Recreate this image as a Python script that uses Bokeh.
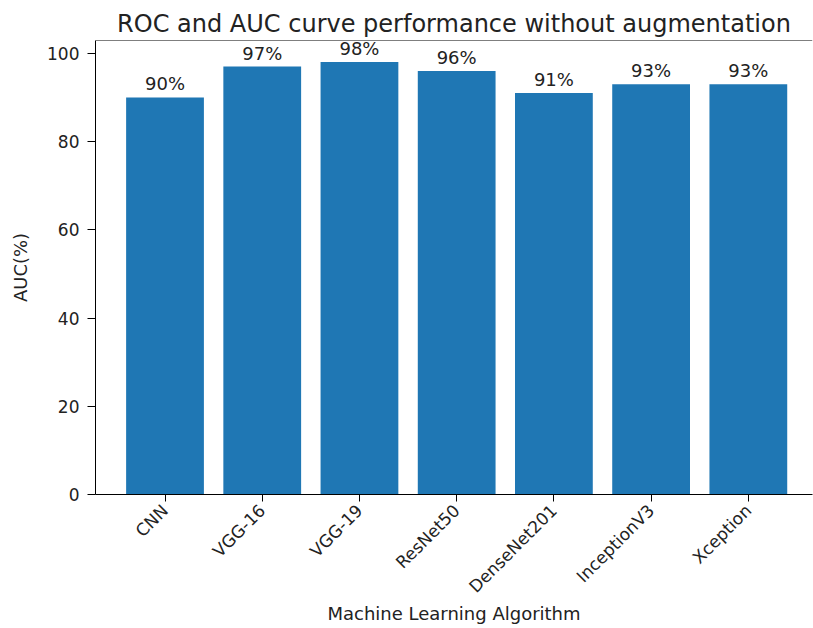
import math
from bokeh.plotting import figure
from bokeh.models import Range1d, FixedTicker, Span, ColumnDataSource
from bokeh.embed import file_html
from bokeh.resources import INLINE
from bokeh.core.properties import value

# ---- data ----
models = ["CNN", "VGG-16", "VGG-19", "ResNet50", "DenseNet201", "InceptionV3", "Xception"]
auc = [90, 97, 98, 96, 91, 93, 93]
y_ticks = [0, 20, 40, 60, 80, 100]

title_text = "ROC and AUC curve performance without augmentation"
x_label = "Machine Learning Algorithm"
y_label = "AUC(%)"

# ---- style ----
FONT = "DejaVu Sans"
TEXT = "#222222"
BAR = "#1f77b4"

xpos = list(range(len(models)))
y_top = max(auc) * 1.05

src = ColumnDataSource(dict(x=xpos, top=auc, label=[f"{v}%" for v in auc]))

p = figure(width=813, height=628, output_backend="svg", toolbar_location=None,
           x_range=Range1d(-0.715, 6.66), y_range=Range1d(0, y_top),
           min_border_left=95, min_border_right=1, min_border_top=40,
           min_border_bottom=134)

p.background_fill_color = "white"
p.border_fill_color = "white"
p.outline_line_color = None
p.xgrid.visible = False
p.ygrid.visible = False

p.title.text = title_text
p.title.align = "center"
p.title.offset = 3
p.title.text_font = FONT
p.title.text_font_size = "24px"
p.title.text_font_style = "normal"
p.title.text_color = TEXT
p.title.standoff = 6

p.vbar(x="x", top="top", width=0.8, bottom=0, source=src,
       fill_color=BAR, line_color=None)

p.text(x="x", y="top", text="label", source=src, text_font=value(FONT),
       text_font_size="18px", text_align="center", text_baseline="bottom",
       y_offset=-3, text_color=TEXT)

p.add_layout(Span(location=y_top, dimension="width", line_color="black", line_width=1))

for ax in (p.xaxis[0], p.yaxis[0]):
    ax.axis_line_color = "black"
    ax.axis_line_width = 1
    ax.major_tick_line_color = "black"
    ax.major_tick_in = 0
    ax.minor_tick_line_color = None
    ax.major_label_text_font = FONT
    ax.major_label_text_font_size = "17px"
    ax.major_label_text_color = TEXT
    ax.axis_label_text_font = FONT
    ax.axis_label_text_font_size = "18px"
    ax.axis_label_text_font_style = "normal"
    ax.axis_label_text_color = TEXT

p.xaxis.ticker = FixedTicker(ticks=xpos)
p.xaxis.major_label_overrides = {i: m for i, m in enumerate(models)}
p.xaxis.major_label_orientation = math.pi / 4
p.xaxis.major_tick_out = 7
p.xaxis.major_label_standoff = 6
p.xaxis.axis_label = x_label
p.xaxis.axis_label_standoff = -4

p.yaxis.ticker = FixedTicker(ticks=y_ticks)
p.yaxis.major_tick_out = 8
p.yaxis.major_label_standoff = 8
p.yaxis.axis_label = y_label
p.yaxis.axis_label_standoff = 13

open("out.html", "w").write(file_html(p, INLINE))
